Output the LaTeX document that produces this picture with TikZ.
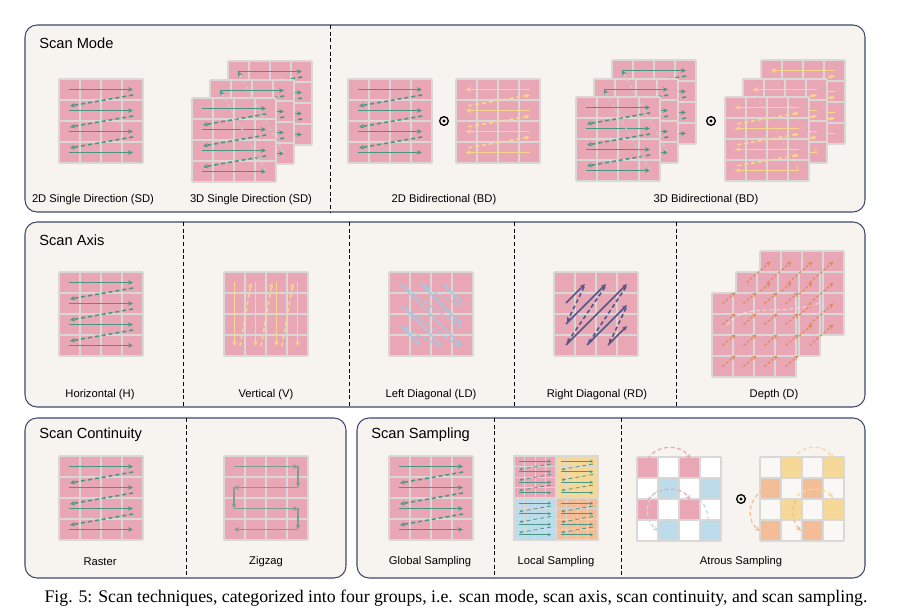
\documentclass[tikz,border=0pt]{standalone}
\usepackage{fontspec}
\setmainfont{Liberation Serif}
\setsansfont{Liberation Sans}
\usetikzlibrary{arrows.meta}

\definecolor{panelbg}{HTML}{F7F4EF}
\definecolor{panelline}{HTML}{3E4A6B}
\definecolor{cellpink}{HTML}{E9A6B4}
\definecolor{cellyellow}{HTML}{F6D899}
\definecolor{cellblue}{HTML}{BDDCEB}
\definecolor{cellorange}{HTML}{F3BD98}
\definecolor{cellpale}{HTML}{FAF8F5}
\definecolor{cellline}{HTML}{DAD7D7}
\definecolor{scanteal}{HTML}{4A9884}
\definecolor{scanyellow}{HTML}{F8D68C}
\definecolor{scanblue}{HTML}{A3C9E2}
\definecolor{scanslate}{HTML}{4F5889}
\definecolor{scanorange}{HTML}{DE8A5A}
\definecolor{scangray}{HTML}{7F9D90}

% grid of 4x4 cells, 84 units wide, top-left corner at (#1,#2)
\newcommand{\gridlines}[2]{%
  \foreach \gk in {0,21,42,63,84}{%
    \draw[gridline] (#1+\gk,#2) -- (#1+\gk,#2+84);
    \draw[gridline] (#1,#2+\gk) -- (#1+84,#2+\gk);}}
\newcommand{\cellgrid}[3]{%
  \fill[#3] (#1,#2) rectangle (#1+84,#2+84);
  \gridlines{#1}{#2}}
% row by row scan, #4 is the tip (-> or <-)
\newcommand{\rowscan}[4]{%
  \foreach \ri in {0,1,2,3}
    \draw[scanline,#3,#4] (#1+10,#2+10.5+21*\ri) -- (#1+74,#2+10.5+21*\ri);
  \foreach \ri in {0,1,2}
    \draw[scanline,jumpline,#3,#4] (#1+74,#2+16+21*\ri) -- (#1+11,#2+27+21*\ri);}
% column by column scan
\newcommand{\colscan}[4]{%
  \foreach \ci in {0,1,2,3}
    \draw[scanline,#3,#4] (#1+10.5+21*\ci,#2+10) -- (#1+10.5+21*\ci,#2+74);
  \foreach \ci in {0,1,2}
    \draw[scanline,jumpline,#3,#4] (#1+16+21*\ci,#2+74) -- (#1+27+21*\ci,#2+11);}
% one short arrow per cell, towards the next layer
\newcommand{\depthscan}[4]{%
  \foreach \ri in {0,...,3}{\foreach \ci in {0,...,3}{%
    \draw[depthline,->] (#1+10.5+21*\ci,#2+10.5+21*\ri) -- ++(#3,#4);}}}

\begin{document}
\begin{tikzpicture}[x=0.75pt,y=-0.75pt,
    >={Stealth[length=3.8pt,width=3.4pt]},
    panel/.style={draw=panelline,fill=panelbg,line width=0.8pt,rounded corners=9pt},
    divider/.style={line width=0.6pt,dash pattern=on 3pt off 2pt},
    gridline/.style={draw=cellline,line width=1pt},
    scanline/.style={line width=1.2pt},
    jumpline/.style={dash pattern=on 3pt off 2.2pt},
    layerjump/.style={draw=gray!40,line width=0.8pt,dash pattern=on 3pt off 2pt},
    depthline/.style={draw=scanorange,line width=0.9pt,dash pattern=on 2pt off 1.5pt},
    zigline/.style={draw=scangray,line width=1.2pt},
    arcline/.style={line width=0.9pt,dash pattern=on 3pt off 2pt},
    title/.style={font=\sffamily\fontsize{11}{13}\selectfont,anchor=west,inner sep=0pt},
    sublabel/.style={font=\sffamily\fontsize{8.4}{10}\selectfont},
    opsym/.style={circle,draw=black,line width=1pt,minimum size=6.5pt,inner sep=0pt,
      path picture={\fill (path picture bounding box.center) circle (1.2pt);}}]
  \useasboundingbox (0,0) rectangle (897,616);

  % panels
  \draw[panel] (25,25) rectangle (865,212);
  \draw[panel] (25,222) rectangle (865,407);
  \draw[panel] (25,418) rectangle (346,578);
  \draw[panel] (357,418) rectangle (865,578);
  \draw[divider] (330,25) -- (330,212);
  \foreach \x in {183,349,514,676} \draw[divider] (\x,222) -- (\x,407);
  \draw[divider] (186,418) -- (186,578);
  \foreach \x in {494,621} \draw[divider] (\x,418) -- (\x,578);

  \node[title] (tmode) at (39,43) {Scan Mode};
  \node[title] (taxis) at (39,240) {Scan Axis};
  \node[title] (tcont) at (39,435) {Scan Continuity};
  \node[title] (tsamp) at (371,435) {Scan Sampling};

  % scan mode
  \cellgrid{59}{79}{cellpink}
  \rowscan{59}{79}{scanteal}{->}

  \cellgrid{228}{61}{cellpink}  \rowscan{228}{61}{scanteal}{->}
  \cellgrid{210}{80}{cellpink}  \rowscan{210}{80}{scanteal}{->}
  \cellgrid{192}{98}{cellpink}  \rowscan{192}{98}{scanteal}{->}
  \draw[layerjump,-{Stealth[length=3.8pt,width=3.4pt,color=scanteal]}] (266,171.5) -- (220,90.5);
  \draw[layerjump,-{Stealth[length=3.8pt,width=3.4pt,color=scanteal]}] (284,153.5) -- (238,71.5);

  \cellgrid{348}{79}{cellpink}  \rowscan{348}{79}{scanteal}{->}
  \node[opsym] (op1) at (444,121) {};
  \cellgrid{456}{79}{cellpink}  \rowscan{456}{79}{scanyellow}{<-}

  \cellgrid{612}{60}{cellpink}  \rowscan{612}{60}{scanteal}{->}
  \cellgrid{594}{79}{cellpink}  \rowscan{594}{79}{scanteal}{->}
  \cellgrid{576}{97}{cellpink}  \rowscan{576}{97}{scanteal}{->}
  \draw[layerjump,-{Stealth[length=3.8pt,width=3.4pt,color=scanteal]}] (650,170.5) -- (604,89.5);
  \draw[layerjump,-{Stealth[length=3.8pt,width=3.4pt,color=scanteal]}] (668,152.5) -- (622,70.5);
  \node[opsym] (op2) at (711,121) {};
  \cellgrid{761}{60}{cellpink}  \rowscan{761}{60}{scanyellow}{<-}
  \cellgrid{743}{79}{cellpink}  \rowscan{743}{79}{scanyellow}{<-}
  \cellgrid{725}{97}{cellpink}  \rowscan{725}{97}{scanyellow}{<-}
  \draw[layerjump,draw=scanyellow,opacity=0.35,<-] (799,170.5) -- (753,89.5);
  \draw[layerjump,draw=scanyellow,opacity=0.35,<-] (817,152.5) -- (771,70.5);

  \node[sublabel] (l2dsd) at (93,200) {2D Single Direction (SD)};
  \node[sublabel] (l3dsd) at (251,200) {3D Single Direction (SD)};
  \node[sublabel] (l2dbd) at (444,200) {2D Bidirectional (BD)};
  \node[sublabel] (l3dbd) at (706,200) {3D Bidirectional (BD)};

  % scan axis
  \cellgrid{59}{272}{cellpink}  \rowscan{59}{272}{scanteal}{->}
  \cellgrid{224}{272}{cellpink} \colscan{224}{272}{scanyellow}{->}

  \begin{scope}[shift={(389,272)}]
    \cellgrid{0}{0}{cellpink}
    \foreach \a/\b/\c/\d in {54/12/73/31,32/12/73/53,11/12/73/74,12/33/52/73,12/54/31/73}
      \draw[scanline,scanblue,->] (\a,\b) -- (\c,\d);
    \foreach \a/\b/\c/\d in {72/34/34/14,72/56/14/14,70/74/14/35,50/74/14/56}
      \draw[scanline,jumpline,scanblue,->] (\a,\b) -- (\c,\d);
  \end{scope}

  \begin{scope}[shift={(554,272)}]
    \cellgrid{0}{0}{cellpink}
    \foreach \a/\b/\c/\d in {12/31/31/12,12/52/52/12,12/73/73/12,33/73/73/33,54/73/73/54}
      \draw[scanline,scanslate,->] (\a,\b) -- (\c,\d);
    \foreach \a/\b/\c/\d in {30/15/13/50,51/15/13/71,72/15/34/72,72/36/55/72}
      \draw[scanline,jumpline,scanslate,->] (\a,\b) -- (\c,\d);
  \end{scope}

  \cellgrid{760}{251}{cellpink}
  \cellgrid{736}{272}{cellpink}
  \depthscan{736}{272}{24}{-21}
  \cellgrid{712}{293}{cellpink}
  \depthscan{712}{293}{13}{-11}
  \draw[arcline,draw=white,opacity=0.45] (727,325) .. controls (748,300) and (772,318) .. (820,303);

  \node[sublabel] (lh) at (100,395) {Horizontal (H)};
  \node[sublabel] (lv) at (266,395) {Vertical (V)};
  \node[sublabel] (lld) at (431,395) {Left Diagonal (LD)};
  \node[sublabel] (lrd) at (597,395) {Right Diagonal (RD)};
  \node[sublabel] (ld) at (774,395) {Depth (D)};

  % scan continuity
  \cellgrid{59}{456}{cellpink}  \rowscan{59}{456}{scanteal}{->}
  \cellgrid{224}{456}{cellpink}
  \draw[zigline,->] (234,466.5) -- (298,466.5);
  \draw[zigline,->] (298,466.5) -- (298,487.5);
  \draw[zigline,->] (298,487.5) -- (234,487.5);
  \draw[zigline,->] (234,487.5) -- (234,508.5);
  \draw[zigline,->] (234,508.5) -- (298,508.5);
  \draw[zigline,->] (298,508.5) -- (298,529.5);
  \draw[zigline,->] (298,529.5) -- (234,529.5);

  \node[sublabel] (lras) at (100,562) {Raster};
  \node[sublabel] (lzig) at (266,562) {Zigzag};

  % scan sampling
  \cellgrid{389}{456}{cellpink} \rowscan{389}{456}{scanteal}{->}

  \foreach \qx/\qy/\qc in {514/456/cellpink,556/456/cellyellow,514/498/cellblue,556/498/cellorange}{
    \begin{scope}[shift={(\qx,\qy)},scale=0.5,
        gridline/.style={draw=cellline,line width=0.5pt},
        scanline/.style={line width=0.6pt},
        >={Stealth[length=2.2pt,width=2.2pt]}]
      \cellgrid{0}{0}{\qc}
      \rowscan{0}{0}{scanteal}{->}
    \end{scope}}
  \draw[gridline] (514,456) rectangle (598,540);
  \draw[gridline] (556,456) -- (556,540) (514,498) -- (598,498);

  % atrous sampling
  \fill[white] (637,457) rectangle (721,541);
  \foreach \cx/\cy/\cc in {0/0/cellpink,2/0/cellpink,1/1/cellblue,3/1/cellblue,
                           0/2/cellpink,2/2/cellpink,1/3/cellblue,3/3/cellblue}
    \fill[\cc] (637+21*\cx,457+21*\cy) rectangle ++(21,21);
  \gridlines{637}{457}
  \draw[arcline,draw=cellpink,->] (648,459) .. controls (656,444) and (682,444) .. (690,459);
  \draw[arcline,draw=cellpink,->] (648,500) .. controls (656,486) and (682,486) .. (690,500);
  \draw[arcline,draw=cellblue,->] (660,490) .. controls (644,497) and (644,520) .. (658,531);
  \draw[arcline,draw=cellblue,->] (699,499) .. controls (709,508) and (709,520) .. (706,531);

  \node[opsym] (op3) at (741,499) {};

  \fill[cellpale] (760,457) rectangle (844,541);
  \foreach \cx/\cy/\cc in {1/0/cellyellow,3/0/cellyellow,0/1/cellorange,2/1/cellorange,
                           1/2/cellyellow,3/2/cellyellow,0/3/cellorange,2/3/cellorange}
    \fill[\cc] (760+21*\cx,457+21*\cy) rectangle ++(21,21);
  \gridlines{760}{457}
  \draw[arcline,draw=cellyellow,->] (793,459) .. controls (801,444) and (825,444) .. (833,459);
  \draw[arcline,draw=cellyellow,->] (797,496) .. controls (805,487) and (825,487) .. (833,498);
  \draw[arcline,draw=cellorange,->] (763,490) .. controls (747,500) and (747,522) .. (760,531);
  \draw[arcline,draw=cellorange,->] (796,500) .. controls (790,512) and (794,524) .. (801,531);

  \node[sublabel] (lglob) at (430,562) {Global Sampling};
  \node[sublabel] (lloc) at (556,562) {Local Sampling};
  \node[sublabel] (latr) at (741,562) {Atrous Sampling};

  % caption
  \node[font=\rmfamily\fontsize{13.3}{15}\selectfont] (fig) at (456,598)
    {Fig. 5: Scan techniques, categorized into four groups, i.e. scan mode, scan axis, scan continuity, and scan sampling.};
\end{tikzpicture}
\end{document}
